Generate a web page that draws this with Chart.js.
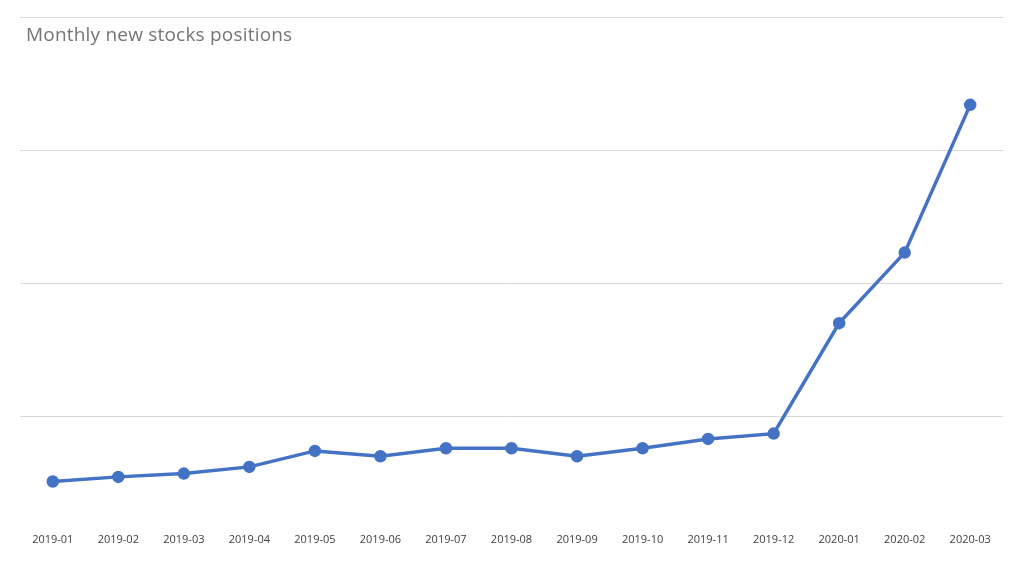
<!DOCTYPE html>
<html>
<head>
<meta charset="utf-8">
<script src="https://cdn.jsdelivr.net/npm/chart.js@4"></script>
<style>
  html, body { margin: 0; padding: 0; background: #fff; }
  #wrap { position: relative; width: 1024px; height: 569px; }
  #title { position: absolute; left: 26px; top: 21px; font-family: "Open Sans", sans-serif;
           font-size: 19px; letter-spacing: 0.2px; color: #757575; }
</style>
</head>
<body>
<div id="wrap">
  <canvas id="chart" width="1024" height="569"></canvas>
  <div id="title">Monthly new stocks positions</div>
</div>
<script>
// months along the x axis
const months = ['2019-01', '2019-02', '2019-03', '2019-04', '2019-05', '2019-06', '2019-07', '2019-08',
                '2019-09', '2019-10', '2019-11', '2019-12', '2020-01', '2020-02', '2020-03'];
// new positions, in gridline units (values unlabeled in source)
const positions = [0.51, 0.545, 0.57, 0.62, 0.74, 0.70, 0.76, 0.76, 0.70, 0.76, 0.83, 0.87, 1.70, 2.23, 3.34];
const gridTicks = [1, 2, 3, 4];

const ctx = document.getElementById('chart').getContext('2d');
new Chart(ctx, {
    type: 'line',
    data: {
        labels: months,
        datasets: [{
            data: positions,
            borderColor: '#4472C4',
            backgroundColor: '#4472C4',
            borderWidth: 3.5,
            pointRadius: 4.5,
            tension: 0
        }]
    },
    options: {
        responsive: false,
        animation: false,
        layout: { padding: { top: 17, left: 20, right: 21, bottom: 21 } },
        plugins: { legend: { display: false }, tooltip: { enabled: false } },
        scales: {
            x: {
                offset: true,
                grid: { display: false },
                border: { display: false },
                ticks: { color: '#404040', font: { family: 'Open Sans', size: 11 }, maxRotation: 0, padding: 2 }
            },
            y: {
                min: 0.2,
                max: 4,
                afterBuildTicks: axis => { axis.ticks = gridTicks.map(v => ({ value: v })); },
                ticks: { display: false },
                border: { display: false },
                grid: { color: '#d9d9d9', lineWidth: 1, drawTicks: false }
            }
        }
    }
});
</script>
</body>
</html>
